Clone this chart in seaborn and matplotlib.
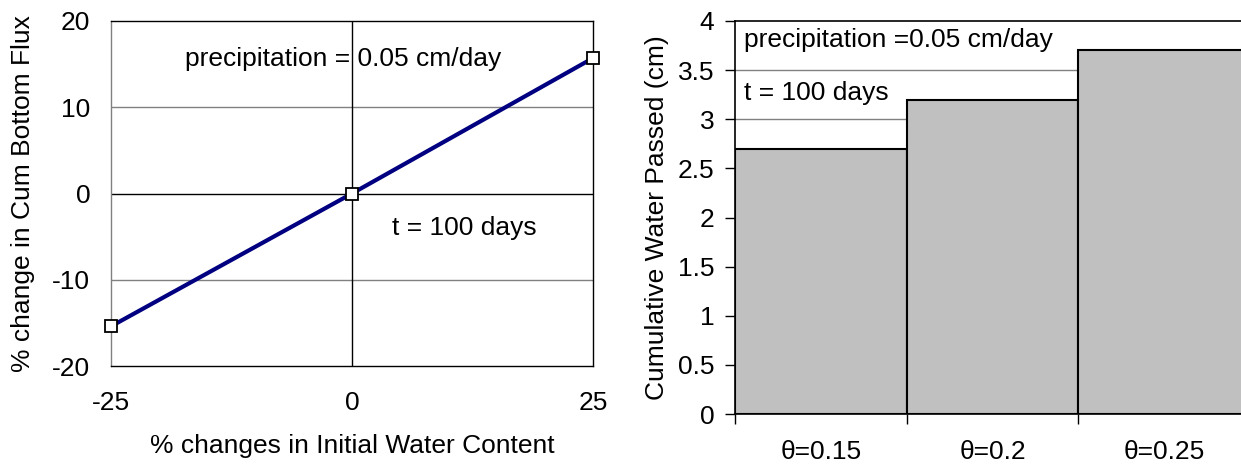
import matplotlib
matplotlib.use("Agg")
import matplotlib.pyplot as plt
import seaborn as sns
import pandas as pd
from matplotlib.ticker import FixedLocator

# Sensitivity of cumulative bottom flux to initial water content
pct_change_wc = [-25, 0, 25]
pct_change_flux = [-15.4, 0, 15.7]

# Cumulative water passed for three initial water contents
theta_labels = ["θ=0.15", "θ=0.2", "θ=0.25"]
water_passed = [2.7, 3.2, 3.7]

FS = 19

sns.set_theme(style="white")
plt.rcParams["font.family"] = ["Liberation Sans", "DejaVu Sans"]
plt.rcParams["font.size"] = FS
plt.rcParams["axes.unicode_minus"] = False
for key in ("text.color", "axes.labelcolor", "xtick.color", "ytick.color",
            "xtick.labelcolor", "ytick.labelcolor"):
    plt.rcParams[key] = "black"

fig = plt.figure(figsize=(12.41, 4.67), dpi=100)
W, H = 1241, 467

def box(x0, y0, x1, y1):
    return [x0 / W, (H - y1) / H, (x1 - x0) / W, (y1 - y0) / H]

# ---- left panel: line chart ----
ax1 = fig.add_axes(box(111, 21, 593, 366))
for y in (-10, 10):
    ax1.axhline(y, color="#808080", lw=1, zorder=0)
ax1.axhline(0, color="black", lw=1, zorder=1)
ax1.axvline(0, color="black", lw=1, zorder=1)
df1 = pd.DataFrame({"wc": pct_change_wc, "flux": pct_change_flux})
sns.lineplot(data=df1, x="wc", y="flux", ax=ax1, color="#000080", lw=3,
             marker="s", markersize=8, markerfacecolor="white",
             markeredgecolor="black", markeredgewidth=1.3, zorder=3,
             clip_on=False)
ax1.set_xlim(-25, 25)
ax1.set_ylim(-20, 20)
ax1.set_xticks([-25, 0, 25])
ax1.set_yticks([-20, -10, 0, 10, 20])
ax1.tick_params(axis="x", length=0, pad=18, labelsize=FS)
ax1.tick_params(axis="y", length=0, pad=15, labelsize=FS)
ax1.set_xlabel("% changes in Initial Water Content", fontsize=FS, labelpad=14)
ax1.set_ylabel("% change in Cum Bottom Flux", fontsize=FS, labelpad=12)
for side in ("top", "right", "bottom"):
    ax1.spines[side].set_color("black")
    ax1.spines[side].set_linewidth(1)
ax1.spines["left"].set_color("#808080")
ax1.spines["left"].set_linewidth(1)
ax1.text(-0.9, 15.6, "precipitation = 0.05 cm/day", ha="center", va="center",
         fontsize=FS)
ax1.text(11.6, -4.0, "t = 100 days", ha="center", va="center", fontsize=FS)

# ---- right panel: bar chart ----
ax2 = fig.add_axes(box(735, 21, 1250, 414))
for y in (0.5, 1, 1.5, 2, 2.5, 3, 3.5):
    ax2.axhline(y, color="#808080", lw=1, zorder=0)
df2 = pd.DataFrame({"theta": theta_labels, "water": water_passed})
sns.barplot(data=df2, x="theta", y="water", ax=ax2, color="#C0C0C0",
            saturation=1, width=1, edgecolor="black", linewidth=1.5,
            zorder=2)
ax2.set_xlim(-0.5, 2.5)
ax2.set_ylim(0, 4)
ax2.set_yticks([0, 0.5, 1, 1.5, 2, 2.5, 3, 3.5, 4])
ax2.set_yticklabels(["0", "0.5", "1", "1.5", "2", "2.5", "3", "3.5", "4"])
ax2.xaxis.set_minor_locator(FixedLocator([-0.5, 0.5, 1.5, 2.5]))
ax2.tick_params(axis="x", which="major", length=0, pad=19, labelsize=FS)
ax2.tick_params(axis="x", which="minor", length=7, width=1, color="black",
                direction="out", bottom=True)
ax2.tick_params(axis="y", length=7, width=1, color="black", direction="out",
                left=True, pad=8, labelsize=FS)
ax2.set_xlabel("")
ax2.set_ylabel("Cumulative Water Passed (cm)", fontsize=FS, labelpad=6)
for side in ("top", "right", "bottom", "left"):
    ax2.spines[side].set_color("black")
    ax2.spines[side].set_linewidth(1.2)
ax2.text(-0.45, 3.81, "precipitation =0.05 cm/day", ha="left", va="center",
         fontsize=FS)
ax2.text(-0.45, 3.27, "t = 100 days", ha="left", va="center", fontsize=FS)

fig.savefig("out.png", dpi=100)
